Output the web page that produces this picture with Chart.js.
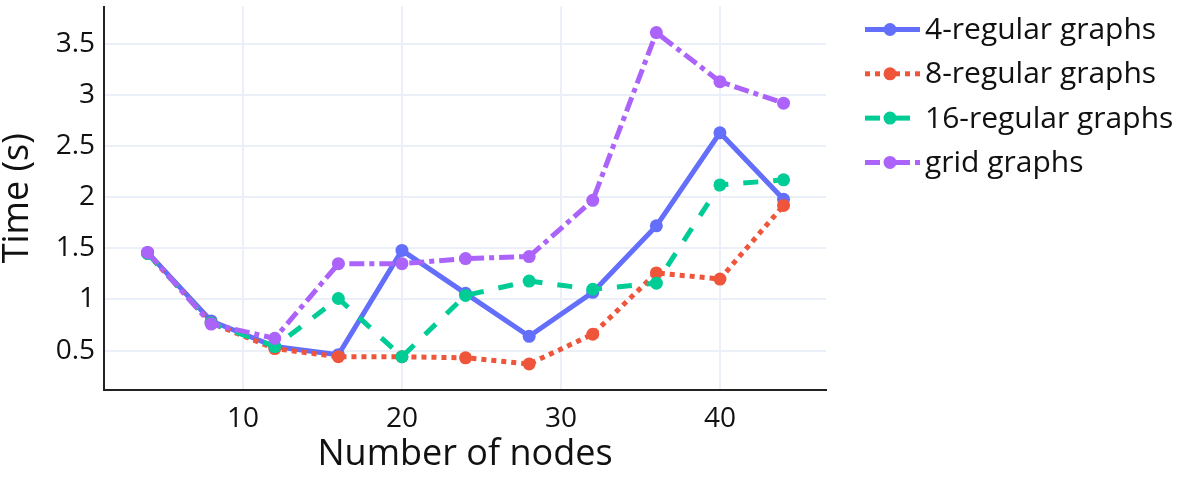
<!DOCTYPE html>
<html>
<head>
<meta charset="utf-8">
<script src="https://cdn.jsdelivr.net/npm/chart.js@4"></script>
<style>
  html, body { margin: 0; padding: 0; background: #fff; }
  .wrap { width: 1178px; height: 478px; position: relative; }
</style>
</head>
<body>
<div class="wrap"><canvas id="chart"></canvas></div>
<script>
// values
const nodes = [4, 8, 12, 16, 20, 24, 28, 32, 36, 40, 44];
const regular4 = [1.46, 0.79, 0.54, 0.46, 1.48, 1.06, 0.64, 1.07, 1.72, 2.63, 1.98];
const regular8 = [1.45, 0.77, 0.52, 0.44, 0.44, 0.43, 0.37, 0.66, 1.26, 1.20, 1.92];
const regular16 = [1.45, 0.77, 0.54, 1.01, 0.44, 1.04, 1.18, 1.10, 1.16, 2.12, 2.17];
const grid = [1.46, 0.76, 0.62, 1.35, 1.35, 1.40, 1.42, 1.97, 3.61, 3.13, 2.92];
const seriesNames = ['4-regular graphs', '8-regular graphs', '16-regular graphs', 'grid graphs'];
const xTicks = [10, 20, 30, 40];
const yTicks = [0.5, 1, 1.5, 2, 2.5, 3, 3.5];

const colors = ['#636efa', '#ef553b', '#00cc96', '#ab63fa'];
const dashes = [[], [5, 5], [15, 15], [15, 5, 5, 5]];
const font = "'Open Sans', 'Noto Sans', sans-serif";

function points(ys) {
    return nodes.map((x, i) => ({ x: x, y: ys[i] }));
}

function makeSet(i, ys) {
    return {
        label: seriesNames[i],
        data: points(ys),
        borderColor: colors[i],
        backgroundColor: colors[i],
        borderWidth: 5,
        borderDash: dashes[i],
        pointRadius: 6.5,
        pointBorderWidth: 0,
        pointBackgroundColor: colors[i],
        tension: 0,
        order: 3 - i
    };
}

// legend drawn like plotly's: dashed sample line with a marker in it
const sideLegend = {
    id: 'sideLegend',
    afterDraw(chart) {
        const ctx = chart.ctx;
        ctx.save();
        chart.data.datasets.forEach((ds, i) => {
            const y = 29.5 + i * 44.3;
            ctx.strokeStyle = ds.borderColor;
            ctx.lineWidth = 5;
            ctx.setLineDash(ds.borderDash);
            ctx.beginPath();
            ctx.moveTo(865, y);
            ctx.lineTo(920, y);
            ctx.stroke();
            ctx.setLineDash([]);
            ctx.fillStyle = ds.borderColor;
            ctx.beginPath();
            ctx.arc(890, y, 6.5, 0, Math.PI * 2);
            ctx.fill();
            ctx.fillStyle = '#111';
            ctx.font = '30px ' + font;
            ctx.textBaseline = 'middle';
            ctx.textAlign = 'left';
            ctx.fillText(ds.label, 925, y + 1);
        });
        ctx.restore();
    }
};

new Chart(document.getElementById('chart').getContext('2d'), {
    type: 'line',
    data: {
        datasets: [
            makeSet(0, regular4),
            makeSet(1, regular8),
            makeSet(2, regular16),
            makeSet(3, grid)
        ]
    },
    options: {
        responsive: true,
        maintainAspectRatio: false,
        animation: false,
        layout: { padding: { left: 0, top: 0, right: 352, bottom: 0 } },
        plugins: {
            legend: { display: false },
            tooltip: { enabled: false }
        },
        scales: {
            x: {
                type: 'linear',
                min: 1.26,
                max: 46.67,
                afterBuildTicks: axis => { axis.ticks = xTicks.map(v => ({ value: v })); },
                afterFit: axis => {
                    axis.height = 88;
                    axis.paddingLeft = 0;
                    axis.paddingRight = 0;
                },
                grid: { color: '#ebf0f8', lineWidth: 2, drawTicks: false },
                border: { display: true, color: '#222', width: 2 },
                ticks: {
                    padding: 12,
                    color: '#111',
                    font: { family: font, size: 28 },
                    maxRotation: 0,
                    callback: v => String(v)
                },
                title: {
                    display: true,
                    text: 'Number of nodes',
                    color: '#111',
                    font: { family: font, size: 36 },
                    padding: { top: 0, bottom: 2 }
                }
            },
            y: {
                type: 'linear',
                min: 0.115,
                max: 3.865,
                afterBuildTicks: axis => { axis.ticks = yTicks.map(v => ({ value: v })); },
                afterFit: axis => {
                    axis.width = 104;
                    axis.paddingTop = 0;
                    axis.paddingBottom = 0;
                },
                grid: { color: '#ebf0f8', lineWidth: 2, drawTicks: false },
                border: { display: true, color: '#222', width: 2 },
                ticks: {
                    padding: 9,
                    color: '#111',
                    font: { family: font, size: 28 },
                    callback: v => String(v)
                },
                title: {
                    display: true,
                    text: 'Time (s)',
                    color: '#111',
                    font: { family: font, size: 36, lineHeight: 1 },
                    padding: { top: 0, bottom: 0 }
                }
            }
        }
    },
    plugins: [sideLegend]
});
</script>
</body>
</html>
